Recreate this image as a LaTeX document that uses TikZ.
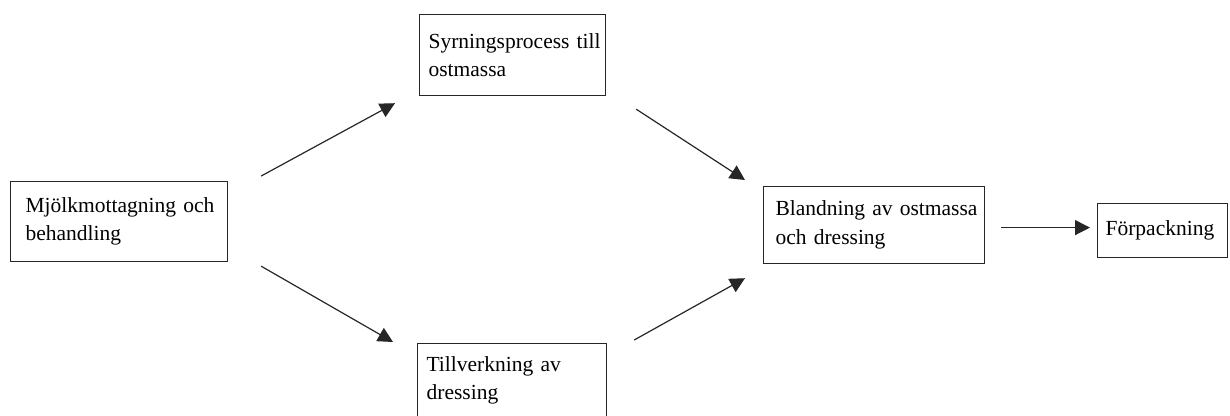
\documentclass[tikz,border=0pt]{standalone}
\usepackage{fontspec}
\setmainfont{Liberation Serif}
\usetikzlibrary{arrows.meta,calc}

\begin{document}
\begin{tikzpicture}[x=1pt,y=1pt,
  stepbox/.style={draw=black!85, line width=1.2pt, rectangle, anchor=north west,
    align=left, inner ysep=0pt,
    font=\fontsize{21.5}{28.5}\selectfont},
  flow/.style={draw=black!85, line width=1.2pt,
    -{Triangle[length=15pt,width=15pt]}}]
\useasboundingbox (0,0) rectangle (1230,-415);

% process steps
\node[stepbox, inner xsep=15pt, text width=187pt, minimum height=80pt]
  (mj) at (10,-181) {\mbox{Mjölkmottagning och}\\\mbox{behandling}};
\node[stepbox, inner xsep=9pt, text width=168pt, minimum height=81pt]
  (sy) at (419,-14) {\mbox{Syrningsprocess till}\\\mbox{ostmassa}};
\node[stepbox, inner xsep=9pt, text width=171pt, minimum height=74pt]
  (ti) at (417,-343) {\mbox{Tillverkning av}\\\mbox{dressing}};
\node[stepbox, inner xsep=12pt, text width=197pt, minimum height=77pt]
  (bl) at (763,-186) {\mbox{Blandning av ostmassa}\\\mbox{och dressing}};
\node[stepbox, inner xsep=8pt, text width=114pt, minimum height=54pt]
  (fp) at (1097,-203) {\mbox{Förpackning}};

% flow between steps
\draw[flow] ($(mj.north east)+(33,5)$) -- ($(sy.south west)+(-24,-7)$);
\draw[flow] ($(mj.south east)+(33,-4)$) -- ($(ti.north west)+(-24,1)$);
\draw[flow] ($(sy.south east)+(30,-13)$) -- ($(bl.north west)+(-18,6)$);
\draw[flow] ($(ti.north east)+(27,3)$) -- ($(bl.south west)+(-18,-14)$);
\draw[flow] ($(bl.east)+(16,-2.5)$) -- ($(fp.west)+(-7,3)$);
\end{tikzpicture}
\end{document}
